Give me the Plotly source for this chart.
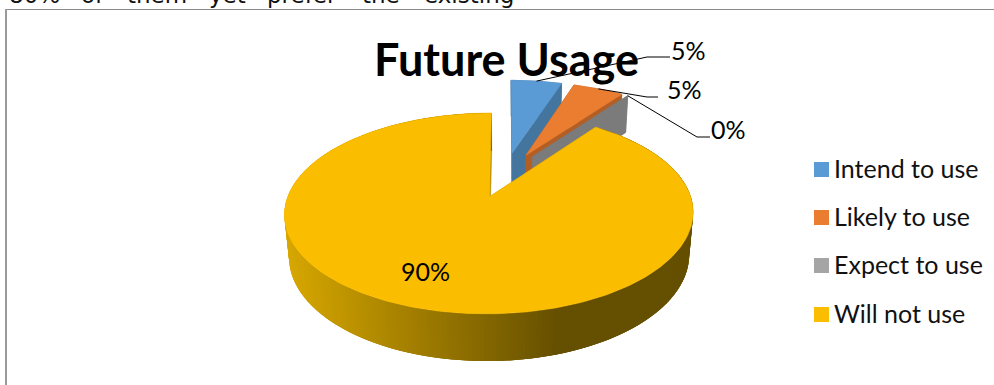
import numpy as np
import plotly.graph_objects as go

# Survey answers and their percentages
categories = ["Intend to use", "Likely to use", "Expect to use", "Will not use"]
shares = [5, 5, 0, 90]
top_colors = ["#5B9BD5", "#EA7D30", "#A5A5A5", "#FBBD00"]
wall_colors = ["#44759F", "#B25E25", "#7B7B7B", "#B88E00"]
intro_words = ["80%", "of", "them", "yet", "prefer", "the", "existing"]
intro_x = [7, 79, 125, 207, 265, 360, 422]

W, H = 994, 385

# Projection of the exploded pie: world X to the right, Y towards the viewer
CX, CY = 504.8, 174.6
RX, RY = 194.0, 90.5
PERSP = 0.158
EXPLODE = 0.25
DEPTH_SCALE = 0.02
DEPTH_DROP = 41.7


def project(xw, yw, bottom=False):
    xw, yw = np.asarray(xw, float), np.asarray(yw, float)
    den = 1 - PERSP * yw + (DEPTH_SCALE if bottom else 0)
    drop = DEPTH_DROP if bottom else 0
    return CX + RX * xw / den, CY + (RY * yw + drop) / den


def polygon(px, py, color, edge=0.6):
    return go.Scatter(
        x=list(px), y=list(py), mode="lines", fill="toself", fillcolor=color,
        line=dict(color=color, width=edge), hoverinfo="skip", showlegend=False,
    )


def side_color(x):
    # Shading of the pie's rim: lit on the left, dark from the middle rightwards
    t = np.clip((x - 284) / (560 - 284), 0, 1)
    a, b = np.array([0xD8, 0xA8, 0x00]), np.array([0x65, 0x4F, 0x00])
    r, g, bl = (a + (b - a) * t).astype(int)
    return f"rgb({r},{g},{bl})"


fig = go.Figure()
total = sum(shares)
start = 0.0
anchors = []
for value, top, wall in zip(shares, top_colors, wall_colors):
    sweep = 360.0 * value / total
    end = start + sweep
    mid = np.radians(start + sweep / 2)
    ox, oy = EXPLODE * np.sin(mid), -EXPLODE * np.cos(mid)

    ang = np.radians(np.linspace(start, end, max(2, int(sweep) + 2)))
    rim_x, rim_y = ox + np.sin(ang), oy - np.cos(ang)

    # Radial walls at both ends of the slice
    for i in (0, -1):
        wx, wy = np.array([ox, rim_x[i]]), np.array([oy, rim_y[i]])
        tx, ty = project(wx, wy)
        bx, by = project(wx, wy, bottom=True)
        fig.add_trace(polygon([tx[0], tx[1], bx[1], bx[0], tx[0]],
                              [ty[0], ty[1], by[1], by[0], ty[0]], wall))

    # Outer rim: each shaded strip reaches under the next one, so no seams show
    if sweep > 0:
        tx, ty = project(rim_x, rim_y)
        bx, by = project(rim_x, rim_y, bottom=True)
        if sweep > 180:
            n = len(ang)
            for i in range(n - 1):
                j = min(i + 3, n - 1)
                color = side_color((tx[i] + tx[i + 1]) / 2)
                sx = np.r_[tx[i:j + 1], bx[i:j + 1][::-1], tx[i]]
                sy = np.r_[ty[i:j + 1], by[i:j + 1][::-1], ty[i]]
                fig.add_trace(polygon(sx, sy, color, edge=0))
        else:
            fig.add_trace(polygon(np.r_[tx, bx[::-1], tx[0]],
                                  np.r_[ty, by[::-1], ty[0]], wall))

        # Top face
        apex_x, apex_y = project([ox], [oy])
        fig.add_trace(polygon(np.r_[apex_x, tx, apex_x],
                              np.r_[apex_y, ty, apex_y], top))

    ax, ay = project([ox + np.sin(mid)], [oy - np.cos(mid)])
    anchors.append((float(ax[0]), float(ay[0])))
    start = end

# Leader lines from the small slices to their labels
label_pos = [(688, 50), (684, 89), (728, 129)]
elbows = [[(647, 57), (670, 57)], [(647, 97), (658, 97)], [(697, 137), (710, 137)]]
for anchor, elbow in zip(anchors[:3], elbows):
    pts = [anchor] + elbow
    fig.add_trace(go.Scatter(
        x=[p[0] for p in pts], y=[p[1] for p in pts], mode="lines",
        line=dict(color="#000000", width=1), hoverinfo="skip", showlegend=False,
    ))

# Legend column
legend_y = [169.5, 217.5, 265.5, 314.5]
for name, color, y in zip(categories, top_colors, legend_y):
    fig.add_trace(go.Scatter(
        x=[821.5], y=[y], mode="markers", name=name,
        marker=dict(symbol="square", size=15, color=color, line=dict(width=0)),
        showlegend=False,
    ))

annotations = [
    dict(x=506, y=59, text="<b>Future Usage</b>",
         font=dict(family="Lato", size=45, color="#000000"))
]
for (x, y), value in zip(label_pos + [(425, 271)], shares):
    annotations.append(dict(x=x, y=y, text=f"{value}%",
                            font=dict(family="Lato", size=25, color="#000000")))
for name, y in zip(categories, legend_y):
    annotations.append(dict(x=832, y=y - 2, text=name, xanchor="left",
                            font=dict(family="Lato", size=25, color="#111111")))
for word, x in zip(intro_words, intro_x):
    annotations.append(dict(x=x, y=10, text=word, xanchor="left", yanchor="bottom",
                            font=dict(family="DejaVu Sans", size=23, color="#111111")))
for a in annotations:
    a.update(xref="x", yref="y", showarrow=False)

fig.update_layout(
    width=W, height=H, margin=dict(l=0, r=0, t=0, b=0),
    paper_bgcolor="#FFFFFF", plot_bgcolor="#FFFFFF",
    xaxis=dict(range=[0, W], visible=False, fixedrange=True),
    yaxis=dict(range=[H, 0], visible=False, fixedrange=True),
    showlegend=False, annotations=annotations,
    shapes=[
        dict(type="line", xref="x", yref="y", x0=5, y0=9.5, x1=W, y1=9.5,
             line=dict(color="#8A8A8A", width=1.2)),
        dict(type="line", xref="x", yref="y", x0=6, y0=9, x1=6, y1=H,
             line=dict(color="#9A9A9A", width=2)),
    ],
)

fig.write_html("out.html", config={"displayModeBar": False})
